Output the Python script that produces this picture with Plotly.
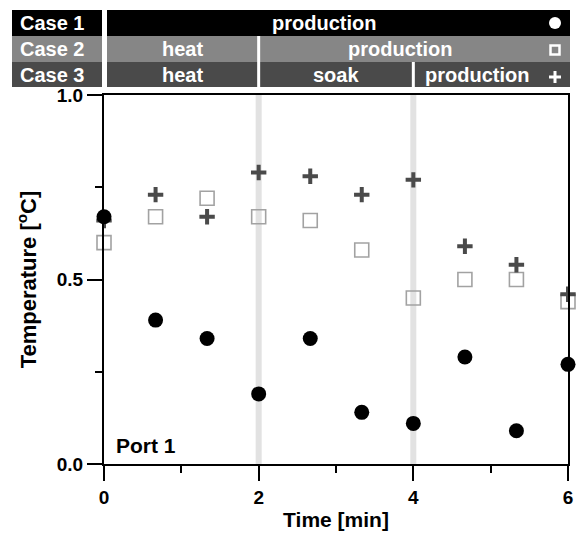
import plotly.graph_objects as go

# ---- data ----
time_min = [0, 0.667, 1.333, 2, 2.667, 3.333, 4, 4.667, 5.333, 6]
case1 = [0.67, 0.39, 0.34, 0.19, 0.34, 0.14, 0.11, 0.29, 0.09, 0.27]
case2 = [0.60, 0.67, 0.72, 0.67, 0.66, 0.58, 0.45, 0.50, 0.50, 0.44]
case3 = [0.66, 0.73, 0.67, 0.79, 0.78, 0.73, 0.77, 0.59, 0.54, 0.46]

phase_bounds = [2, 4]
case_labels = ["Case 1", "Case 2", "Case 3"]
case_phases = [
    [("production", 0, 6)],
    [("heat", 0, 2), ("production", 2, 6)],
    [("heat", 0, 2), ("soak", 2, 4), ("production", 4, 6)],
]
row_colors = ["#000000", "#868686", "#4a4a4a"]
x_ticks = [0, 2, 4, 6]
y_ticks = [0.0, 0.5, 1.0]

W, H = 577, 534
ML, MR, MT, MB = 104, 9, 95, 70
PW, PH = W - ML - MR, H - MT - MB
XR = (0, 6)

def px(xpix):
    return (xpix - ML) / PW

def py(ypix):
    return (H - MB - ypix) / PH

def dx(v):
    # data x -> paper x
    return (v - XR[0]) / (XR[1] - XR[0])

FONT = "Liberation Sans, Arial, sans-serif"

fig = go.Figure()

fig.add_trace(go.Scatter(x=time_min, y=case2, mode="markers", cliponaxis=False,
                         marker=dict(symbol="square-open", size=14, color="#a2a2a2",
                                     line=dict(width=1.6, color="#a2a2a2"))))
fig.add_trace(go.Scatter(x=time_min, y=case3, mode="markers", cliponaxis=False,
                         marker=dict(symbol="cross-thin", size=11,
                                     line=dict(width=4, color="#4a4a4a"))))
fig.add_trace(go.Scatter(x=time_min, y=case1, mode="markers", cliponaxis=False,
                         marker=dict(symbol="circle", size=15, color="#000000")))

shapes = []
# gray phase lines
for b in phase_bounds:
    shapes.append(dict(type="line", xref="x", yref="paper", x0=b, x1=b, y0=0, y1=1,
                       line=dict(color="#e2e2e2", width=6), layer="below"))

# header
row_top = [10, 36, 62]
row_bot = [36, 62, 87]
annotations = []
for i in range(3):
    y0, y1 = py(row_bot[i]), py(row_top[i])
    ymid = (y0 + y1) / 2
    shapes.append(dict(type="rect", xref="paper", yref="paper", x0=px(12), x1=px(102),
                       y0=y0, y1=y1, fillcolor=row_colors[i], line=dict(width=0), layer="above"))
    annotations.append(dict(xref="paper", yref="paper", x=px(52), y=ymid, text=f"<b>{case_labels[i]}</b>",
                            showarrow=False, font=dict(family=FONT, size=20, color="white"),
                            xanchor="center", yanchor="middle"))
    phases = case_phases[i]
    for j, (name, a, b) in enumerate(phases):
        xa = px(107) if a == XR[0] else dx(a) + px(ML + 1.5) - px(ML)
        xb = px(570) if b == XR[1] else dx(b) - (px(ML + 1.5) - px(ML))
        shapes.append(dict(type="rect", xref="paper", yref="paper", x0=xa, x1=xb,
                           y0=y0, y1=y1, fillcolor=row_colors[i], line=dict(width=0), layer="above"))
        tb = px(540) if b == XR[1] else xb
        annotations.append(dict(xref="paper", yref="paper", x=(xa + tb) / 2, y=ymid, text=f"<b>{name}</b>",
                                showarrow=False, font=dict(family=FONT, size=20, color="white"),
                                xanchor="center", yanchor="middle"))

# header symbols
sx = 555
shapes.append(dict(type="circle", xref="paper", yref="paper", x0=px(sx - 6), x1=px(sx + 6),
                   y0=py(29), y1=py(17), fillcolor="white", line=dict(width=0), layer="above"))
shapes.append(dict(type="rect", xref="paper", yref="paper", x0=px(sx - 4.5), x1=px(sx + 4.5),
                   y0=py(54.5), y1=py(45.5), fillcolor="rgba(0,0,0,0)",
                   line=dict(width=2.5, color="white"), layer="above"))
shapes.append(dict(type="line", xref="paper", yref="paper", x0=px(sx - 6), x1=px(sx + 6),
                   y0=py(77), y1=py(77), line=dict(width=3, color="white"), layer="above"))
shapes.append(dict(type="line", xref="paper", yref="paper", x0=px(sx), x1=px(sx),
                   y0=py(83), y1=py(71), line=dict(width=3, color="white"), layer="above"))

annotations.append(dict(xref="paper", yref="paper", x=px(114), y=py(445), text="<b>Port 1</b>",
                        showarrow=False, xanchor="left", yanchor="middle",
                        font=dict(family=FONT, size=21, color="black")))

axis_common = dict(showline=True, linewidth=2, linecolor="black", mirror=True,
                   ticks="outside", ticklen=15, tickwidth=2, tickcolor="black",
                   showgrid=False, zeroline=False, automargin=False,
                   tickfont=dict(family=FONT, size=19, color="black", weight="bold"))

fig.update_layout(
    template="none",
    width=W, height=H,
    margin=dict(l=ML, r=MR, t=MT, b=MB),
    paper_bgcolor="white", plot_bgcolor="white",
    showlegend=False,
    shapes=shapes, annotations=annotations,
    xaxis=dict(range=list(XR), tickvals=x_ticks, ticktext=[str(t) for t in x_ticks],
               minor=dict(ticks="outside", ticklen=7, tickwidth=2, tickcolor="black", dtick=1, tick0=0),
               title=dict(text="<b>Time [min]</b>", standoff=6,
                          font=dict(family=FONT, size=21, color="black")),
               **axis_common),
    yaxis=dict(range=[0, 1], tickvals=y_ticks, ticktext=[f"{t:.1f}" for t in y_ticks],
               minor=dict(ticks="outside", ticklen=7, tickwidth=2, tickcolor="black", dtick=0.25, tick0=0),
               title=dict(text="<b>Temperature [<sup>o</sup>C]</b>", standoff=14,
                          font=dict(family=FONT, size=22, color="black")),
               **axis_common),
)

fig.write_html("out.html")
